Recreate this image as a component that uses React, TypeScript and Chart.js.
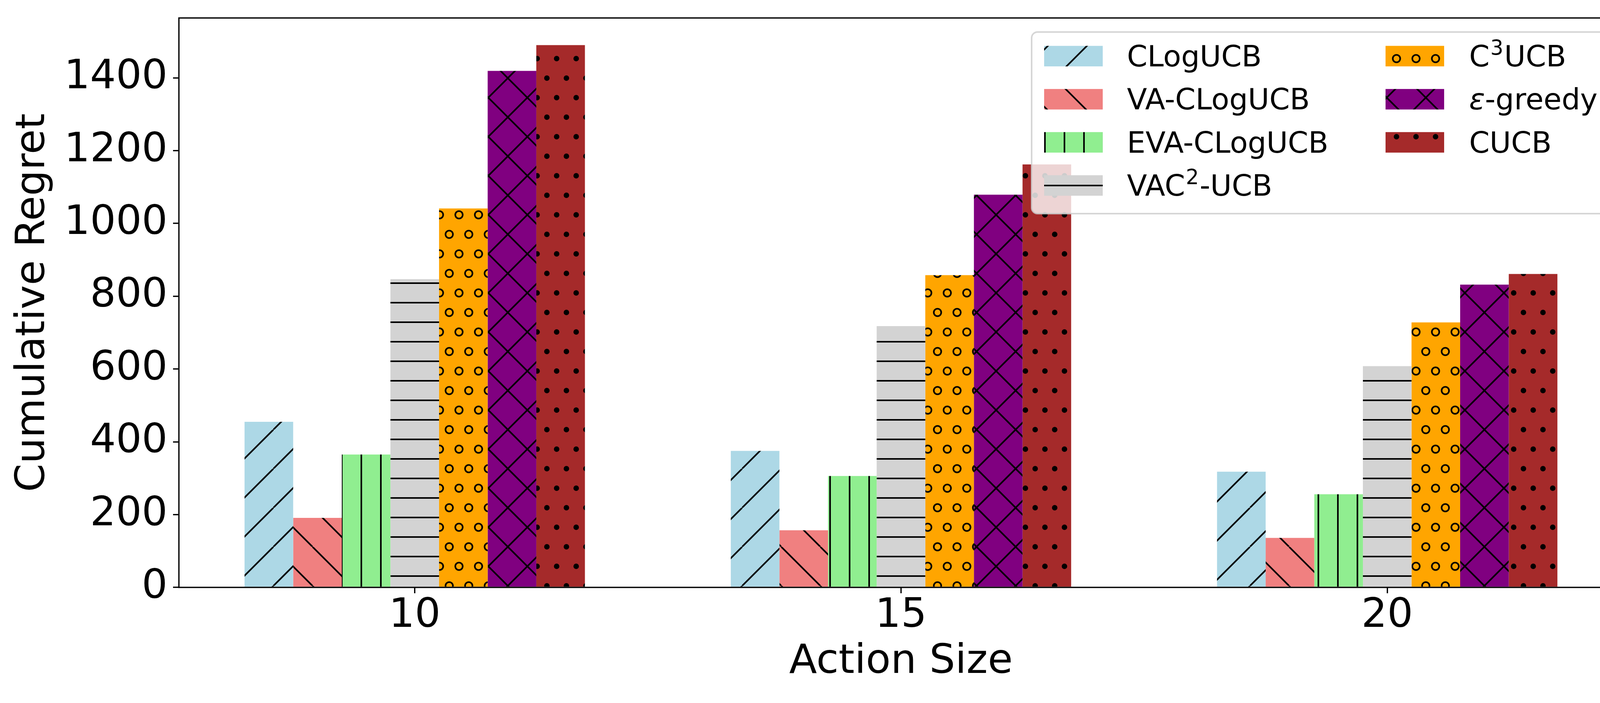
import React, { useEffect, useRef } from "react";
import { Chart, registerables } from "chart.js";

Chart.register(...registerables);

// ---------------- data ----------------
const categories = ["10", "15", "20"];
const seriesLabels = ["CLogUCB", "VA-CLogUCB", "EVA-CLogUCB", "VAC^2-UCB", "C^3UCB", "ε-greedy", "CUCB"];
const clogucb = [455, 375, 318];
const vaClogucb = [191, 157, 136];
const evaClogucb = [365, 306, 256];
const vac2ucb = [847, 718, 608];
const c3ucb = [1041, 858, 728];
const epsGreedy = [1419, 1079, 832];
const cucb = [1490, 1162, 861];
const yTicks = [0, 200, 400, 600, 800, 1000, 1200, 1400];
const yMax = 1564.5;
const xTitle = "Action Size";
const yTitle = "Cumulative Regret";

const seriesValues = [clogucb, vaClogucb, evaClogucb, vac2ucb, c3ucb, epsGreedy, cucb];
const seriesColors = ["#add8e6", "#f08080", "#90ee90", "#d3d3d3", "#ffa500", "#800080", "#a52a2a"];
const seriesHatches = ["/", "\\", "|", "-", "o", "x", "."];

const FAM = "'DejaVu Sans'";

// ---------------- hatch patterns ----------------
function makePattern(ctx: CanvasRenderingContext2D, kind: string, color: string): CanvasPattern {
  const T = 100;
  const c = document.createElement("canvas");
  c.width = T;
  c.height = T;
  const g = c.getContext("2d")!;
  g.fillStyle = color;
  g.fillRect(0, 0, T, T);
  g.strokeStyle = "#000";
  g.fillStyle = "#000";
  g.lineWidth = 4.1;
  const line = (x1: number, y1: number, x2: number, y2: number) => {
    g.beginPath();
    g.moveTo(x1, y1);
    g.lineTo(x2, y2);
    g.stroke();
  };
  const slash = () => {
    for (let k = 0; k <= 200; k += 100) line(k, 0, k - 100, 100);
  };
  const back = () => {
    for (let k = -100; k <= 100; k += 100) line(k, 0, k + 100, 100);
  };
  const centers = [
    [0, 0], [50, 0], [100, 0],
    [0, 100], [50, 100], [100, 100],
    [25, 50], [75, 50],
  ];
  switch (kind) {
    case "/":
      slash();
      break;
    case "\\":
      back();
      break;
    case "x":
      slash();
      back();
      break;
    case "|":
      line(25, -5, 25, 105);
      line(75, -5, 75, 105);
      break;
    case "-":
      line(-5, 25, 105, 25);
      line(-5, 75, 105, 75);
      break;
    case "o":
      for (const [cx, cy] of centers) {
        g.beginPath();
        g.arc(cx, cy, 9.5, 0, Math.PI * 2);
        g.stroke();
      }
      break;
    case ".":
      for (const [cx, cy] of centers) {
        g.beginPath();
        g.arc(cx, cy, 7, 0, Math.PI * 2);
        g.fill();
      }
      break;
  }
  return ctx.createPattern(c, "repeat")!;
}

// ---------------- rich label drawing ----------------
function drawRichLabel(ctx: CanvasRenderingContext2D, label: string, x: number, baseline: number) {
  const size = 75;
  const supSize = 52.5;
  let cx = x;
  let run = "";
  const flush = () => {
    if (!run) return;
    ctx.font = `${size}px ${FAM}`;
    ctx.fillText(run, cx, baseline);
    cx += ctx.measureText(run).width;
    run = "";
  };
  for (let i = 0; i < label.length; i++) {
    const ch = label[i];
    if (ch === "^") {
      flush();
      const s = label[++i];
      ctx.font = `${supSize}px ${FAM}`;
      ctx.fillText(s, cx + 2, baseline - 30);
      cx += ctx.measureText(s).width + 4;
    } else if (ch === "ε") {
      flush();
      ctx.font = `italic ${size}px ${FAM}`;
      ctx.fillText(ch, cx, baseline);
      cx += ctx.measureText(ch).width;
    } else {
      run += ch;
    }
  }
  flush();
}

export default function App() {
  const ref = useRef<HTMLCanvasElement>(null);

  useEffect(() => {
    document.body.style.margin = "0";
    const canvas = ref.current!;
    const ctx = canvas.getContext("2d")!;
    const patterns = seriesColors.map((col, i) => makePattern(ctx, seriesHatches[i], col));

    const framePlugin = {
      id: "frame",
      afterDatasetsDraw(chart: any) {
        const { ctx: c, chartArea: a } = chart;
        c.save();
        c.strokeStyle = "#000";
        c.lineWidth = 3.33;
        c.lineJoin = "miter";
        c.strokeRect(a.left, a.top, a.right - a.left, a.bottom - a.top);
        c.restore();
      },
    };

    const legendPlugin = {
      id: "customLegend",
      afterDraw(chart: any) {
        const c: CanvasRenderingContext2D = chart.ctx;
        c.save();
        const bx = 2641, by = 82, bw = 4118 - 2641, bh = 547 - 82;
        c.beginPath();
        (c as any).roundRect(bx, by, bw, bh, 15);
        c.fillStyle = "rgba(255,255,255,0.8)";
        c.fill();
        c.lineWidth = 4;
        c.strokeStyle = "rgba(204,204,204,0.8)";
        c.stroke();
        const colHandleX = [2673, 3547];
        const colTextX = [2885, 3761];
        const rowY0 = 143.7;
        const rowDy = 110.4;
        const hw = 150, hh = 52.5;
        c.textAlign = "left";
        c.textBaseline = "alphabetic";
        seriesLabels.forEach((lab, i) => {
          const col = i < 4 ? 0 : 1;
          const row = i < 4 ? i : i - 4;
          const cy = rowY0 + row * rowDy;
          c.fillStyle = patterns[i];
          c.fillRect(colHandleX[col], cy - hh / 2, hw, hh);
          c.fillStyle = "#000";
          drawRichLabel(c, lab, colTextX[col], cy + 26);
        });
        c.restore();
      },
    };

    const chart = new Chart(canvas, {
      type: "bar",
      data: {
        datasets: seriesValues.map((vals, i) => ({
          label: seriesLabels[i],
          data: vals.map((v, j) => ({ x: j, y: v })),
          backgroundColor: patterns[i],
          borderWidth: 0,
          categoryPercentage: 0.7,
          barPercentage: 1.0,
        })),
      },
      options: {
        responsive: false,
        animation: false,
        devicePixelRatio: 1,
        layout: { padding: { top: 46, right: 45, bottom: 0, left: 0 } },
        plugins: { legend: { display: false }, tooltip: { enabled: false } },
        scales: {
          x: {
            type: "linear",
            min: -0.485,
            max: 2.485,
            offset: false,
            grid: {
              drawOnChartArea: false,
              drawTicks: true,
              tickLength: 15,
              color: "#000",
              lineWidth: 3.33,
              offset: false,
            },
            border: { display: false },
            ticks: {
              color: "#000",
              font: { family: FAM, size: 104, lineHeight: 1 },
              padding: 7,
              autoSkip: false,
              maxRotation: 0,
              callback: (v: any) => categories[Math.round(Number(v))] ?? "",
            },
            title: {
              display: true,
              text: xTitle,
              color: "#000",
              font: { family: FAM, size: 104, lineHeight: 1 },
              padding: { top: 0, bottom: 52 },
            },
            afterBuildTicks: (s: any) => {
              s.ticks = categories.map((_, i) => ({ value: i }));
            },
            afterFit: (s: any) => {
              s.height = 296;
              s.paddingLeft = 0;
              s.paddingRight = 0;
            },
          } as any,
          y: {
            type: "linear",
            min: 0,
            max: yMax,
            grid: {
              drawOnChartArea: false,
              drawTicks: true,
              tickLength: 15,
              color: "#000",
              lineWidth: 3.33,
            },
            border: { display: false },
            ticks: {
              color: "#000",
              font: { family: FAM, size: 104, lineHeight: 1 },
              padding: 14,
              autoSkip: false,
              callback: (v: any) => String(v),
            },
            title: {
              display: true,
              text: yTitle,
              color: "#000",
              font: { family: FAM, size: 104, lineHeight: 1 },
              padding: { top: 34, bottom: 0 },
            },
            afterBuildTicks: (s: any) => {
              s.ticks = yTicks.map((v) => ({ value: v }));
            },
            afterFit: (s: any) => {
              s.width = 458;
              s.paddingTop = 0;
              s.paddingBottom = 0;
            },
          } as any,
        },
      },
      plugins: [framePlugin, legendPlugin],
    } as any);

    return () => chart.destroy();
  }, []);

  return (
    <canvas
      ref={ref}
      width={4200}
      height={1800}
      style={{ display: "block", width: "4200px", height: "1800px" }}
    />
  );
}
